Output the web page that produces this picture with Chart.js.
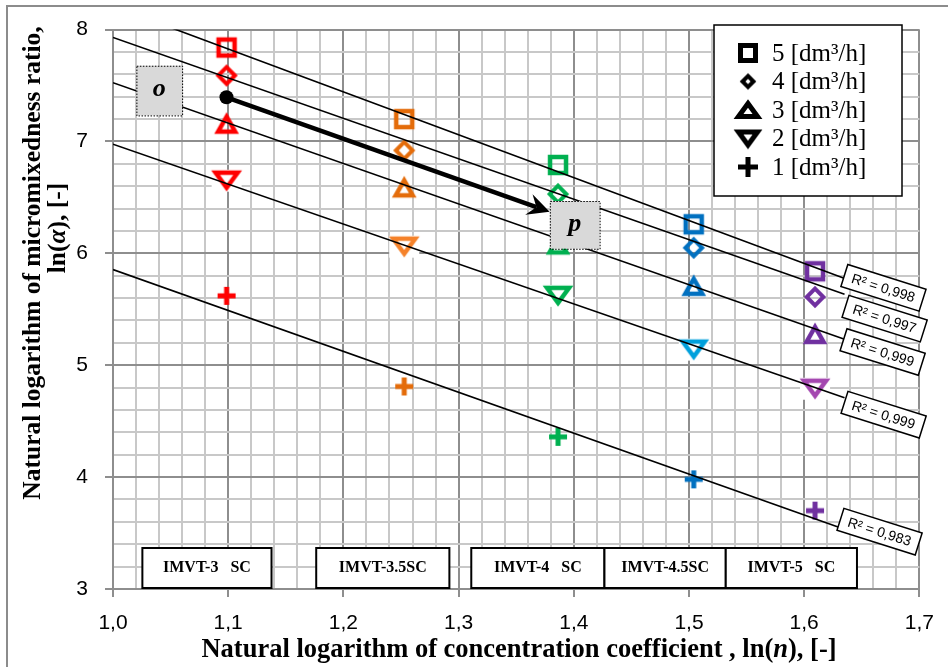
<!DOCTYPE html>
<html><head><meta charset="utf-8">
<script src="https://cdn.jsdelivr.net/npm/chart.js@4.4.1/dist/chart.umd.min.js"></script>
<style>html,body{margin:0;padding:0;background:#fff;}canvas{display:block;}</style>
</head><body>
<canvas id="c" width="948" height="667"></canvas>
<script>
// ---- data ----
const xValues = [1.0986, 1.2528, 1.3863, 1.5041, 1.6094];   // ln(n) for IMVT-3 ... IMVT-5
const flowLabels = ['5 [dm³/h]', '4 [dm³/h]', '3 [dm³/h]', '2 [dm³/h]', '1 [dm³/h]'];
const flow5 = [7.84, 7.20, 6.79, 6.26, 5.84];
const flow4 = [7.59, 6.92, 6.53, 6.05, 5.61];
const flow3 = [7.16, 6.59, 6.08, 5.71, 5.28];
const flow2 = [6.65, 6.06, 5.62, 5.14, 4.79];
const flow1 = [5.62, 4.81, 4.36, 3.98, 3.70];
// trend lines (start at ln(n)=1.0, end where the R² label sits)
const trendStart = [8.21, 7.93, 7.526, 6.976, 5.855];
const trendEndX = [1.634, 1.635, 1.635, 1.635, 1.630];
const trendEnd = [5.78, 5.634, 5.233, 4.71, 3.553];
const r2Labels = ['R² = 0,998', 'R² = 0,997', 'R² = 0,999', 'R² = 0,999', 'R² = 0,983'];
const reactorLabels = ['IMVT-3   SC', 'IMVT-3.5SC', 'IMVT-4   SC', 'IMVT-4.5SC', 'IMVT-5   SC'];
const arrowFrom = [1.0985, 7.395];
const arrowTo = [1.379, 6.371];

// ---- styles ----
const catColors = ['#FF0000', '#E46C0A', '#00B050', '#0070C0', '#7030A0'];
const downColors = ['#FF0000', '#F5822A', '#00B050', '#00A0DC', '#A447B0'];
const shapes = ['square', 'diamond', 'tri', 'down', 'plus'];
const isMajorX = v => Math.abs(v * 10 - Math.round(v * 10)) < 1e-6;
const isMajorY = v => Math.abs(v - Math.round(v)) < 1e-6;

function marker(shape, color, big) {
  const S = 40, c = document.createElement('canvas');
  c.width = S; c.height = S;
  const g = c.getContext('2d');
  g.translate(S / 2, S / 2);
  g.strokeStyle = color; g.fillStyle = color; g.lineJoin = 'miter'; g.lineCap = 'butt';
  g.beginPath();
  if (shape === 'square') {
    const h = big ? 7.5 : 8; g.lineWidth = big ? 5 : 4.5; g.rect(-h, -h, 2 * h, 2 * h);
  } else if (shape === 'diamond') {
    const h = big ? 5.5 : 8.3; g.lineWidth = 4;
    g.moveTo(0, -h); g.lineTo(h, 0); g.lineTo(0, h); g.lineTo(-h, 0); g.closePath();
  } else if (shape === 'tri') {
    g.lineWidth = big ? 5 : 4.5;
    if (big) { g.moveTo(0, -6.5); g.lineTo(9.5, 6.5); g.lineTo(-9.5, 6.5); }
    else { g.moveTo(0, -7); g.lineTo(8.5, 8); g.lineTo(-8.5, 8); }
    g.closePath();
  } else if (shape === 'down') {
    if (!big) { g.fillStyle = '#fff'; g.fillRect(-15, -11, 30, 22); g.fillStyle = color; }
    g.lineWidth = big ? 5 : 4.5;
    if (big) { g.moveTo(-9.5, -6.5); g.lineTo(9.5, -6.5); g.lineTo(0, 6.5); }
    else { g.moveTo(-11, -8); g.lineTo(11, -8); g.lineTo(0, 7); }
    g.closePath();
  } else if (shape === 'plus') {
    const h = big ? 10 : 9; g.lineWidth = 5;
    g.moveTo(-h, 0); g.lineTo(h, 0); g.moveTo(0, -h); g.lineTo(0, h);
  }
  g.stroke();
  return c;
}

const seriesVals = [flow5, flow4, flow3, flow2, flow1];
const datasets = [];
seriesVals.forEach((vals, s) => {
  datasets.push({
    label: flowLabels[s],
    data: xValues.map((x, i) => ({ x: x, y: vals[i] })),
    pointStyle: xValues.map((x, i) => marker(shapes[s], (shapes[s] === 'down' ? downColors : catColors)[i], false)),
    pointRadius: 10, showLine: false, order: 1
  });
});
seriesVals.forEach((vals, s) => {
  datasets.push({
    label: 'trend ' + flowLabels[s],
    data: [{ x: 1.0, y: trendStart[s] }, { x: trendEndX[s], y: trendEnd[s] }],
    showLine: true, borderColor: '#000', borderWidth: 1.6, pointRadius: 0, order: 0, tension: 0
  });
});

const r2Offsets = [[1, -2.5], [1, 12], [-1, 0.5], [0, 4.7], [1.7, -7.8]];
const reactorBounds = [[1.0255, 1.1376], [1.1764, 1.292], [1.311, 1.4266], [1.4266, 1.5319], [1.5319, 1.6458]];

function drawPieces(ctx, pieces, cx, cy, size) {
  const fonts = pieces.map(p => (p[1] ? 'bold italic ' : 'bold ') + size + 'px "Liberation Serif"');
  let total = 0;
  const widths = pieces.map((p, i) => { ctx.font = fonts[i]; const w = ctx.measureText(p[0]).width; total += w; return w; });
  let x = cx - total / 2;
  ctx.textAlign = 'left'; ctx.textBaseline = 'middle'; ctx.fillStyle = '#000';
  pieces.forEach((p, i) => { ctx.font = fonts[i]; ctx.fillText(p[0], x, cy); x += widths[i]; });
}

const deco = {
  id: 'deco',
  beforeDraw(chart) {
    const ctx = chart.ctx;
    ctx.save();
    ctx.fillStyle = '#fff'; ctx.fillRect(0, 0, chart.width, chart.height);
    ctx.strokeStyle = '#8c8c8c'; ctx.lineWidth = 2;
    ctx.beginPath(); ctx.moveTo(7, 667); ctx.lineTo(7, 6); ctx.lineTo(948, 6); ctx.stroke();
    ctx.restore();
  },
  afterDatasetsDraw(chart) {
    const ctx = chart.ctx, xs = chart.scales.x, ys = chart.scales.y;
    ctx.save();
    // arrow o -> p
    const sx = xs.getPixelForValue(arrowFrom[0]), sy = ys.getPixelForValue(arrowFrom[1]);
    const tx = xs.getPixelForValue(arrowTo[0]), ty = ys.getPixelForValue(arrowTo[1]);
    const a = Math.atan2(ty - sy, tx - sx), ux = Math.cos(a), uy = Math.sin(a), vx = -uy, vy = ux;
    ctx.strokeStyle = '#000'; ctx.lineWidth = 4.5;
    ctx.beginPath(); ctx.moveTo(sx, sy); ctx.lineTo(tx - 14 * ux, ty - 14 * uy); ctx.stroke();
    ctx.fillStyle = '#000';
    ctx.beginPath();
    ctx.moveTo(tx, ty);
    ctx.lineTo(tx - 22 * ux + 11 * vx, ty - 22 * uy + 11 * vy);
    ctx.lineTo(tx - 14 * ux, ty - 14 * uy);
    ctx.lineTo(tx - 22 * ux - 11 * vx, ty - 22 * uy - 11 * vy);
    ctx.closePath(); ctx.fill();
    ctx.beginPath(); ctx.arc(sx, sy, 7, 0, Math.PI * 2); ctx.fill();
    // gray boxes o and p
    const grayBox = (x0, x1, y0, y1, t) => {
      const l = xs.getPixelForValue(x0), r = xs.getPixelForValue(x1), tp = ys.getPixelForValue(y0), b = ys.getPixelForValue(y1);
      ctx.fillStyle = '#d9d9d9'; ctx.fillRect(l, tp, r - l, b - tp);
      ctx.setLineDash([1.5, 1.5]); ctx.strokeStyle = '#000'; ctx.lineWidth = 1;
      ctx.strokeRect(l + 0.5, tp + 0.5, r - l, b - tp); ctx.setLineDash([]);
      ctx.fillStyle = '#000'; ctx.font = 'bold italic 26px "Liberation Serif"';
      ctx.textAlign = 'center'; ctx.textBaseline = 'middle';
      ctx.fillText(t, (l + r) / 2, (tp + b) / 2 - 1);
    };
    grayBox(1.0203, 1.0600, 7.677, 7.233, 'o');
    grayBox(1.3792, 1.4224, 6.468, 6.041, 'p');
    // R² labels
    const ang = 17.5 * Math.PI / 180;
    r2Labels.forEach((t, i) => {
      const ex = xs.getPixelForValue(trendEndX[i]) + r2Offsets[i][0];
      const ey = ys.getPixelForValue(trendEnd[i]) + r2Offsets[i][1];
      ctx.save(); ctx.translate(ex, ey); ctx.rotate(ang);
      ctx.fillStyle = '#fff'; ctx.fillRect(0, -11.5, 82, 23);
      ctx.strokeStyle = '#000'; ctx.lineWidth = 1.5; ctx.strokeRect(0, -11.5, 82, 23);
      ctx.fillStyle = '#000'; ctx.font = '14px "Liberation Sans"';
      ctx.textAlign = 'left'; ctx.textBaseline = 'middle'; ctx.fillText(t, 8, 1);
      ctx.restore();
    });
    // reactor boxes
    const bot = chart.chartArea.bottom;
    reactorLabels.forEach((t, i) => {
      const l = xs.getPixelForValue(reactorBounds[i][0]), r = xs.getPixelForValue(reactorBounds[i][1]);
      ctx.fillStyle = '#fff'; ctx.fillRect(l, bot - 41, r - l, 40);
      ctx.strokeStyle = '#000'; ctx.lineWidth = 2; ctx.strokeRect(l, bot - 41, r - l, 40);
      ctx.fillStyle = '#000'; ctx.font = 'bold 16px "Liberation Serif"';
      ctx.textAlign = 'center'; ctx.textBaseline = 'middle';
      ctx.fillText(t, (l + r) / 2, bot - 21);
    });
    ctx.restore();
  },
  afterDraw(chart) {
    const ctx = chart.ctx;
    ctx.save();
    // legend
    ctx.fillStyle = '#fff'; ctx.fillRect(714, 25, 188, 171);
    ctx.strokeStyle = '#000'; ctx.lineWidth = 1.5; ctx.strokeRect(714, 25, 188, 171);
    flowLabels.forEach((t, i) => {
      const y = 53 + 28.5 * i;
      const m = marker(shapes[i], '#000', true);
      ctx.drawImage(m, 748 - m.width / 2, y - m.height / 2);
      ctx.fillStyle = '#000'; ctx.font = '25px "Liberation Serif"';
      ctx.textAlign = 'left'; ctx.textBaseline = 'middle';
      ctx.fillText(t, 772, y + 1);
    });
    // axis titles
    drawPieces(ctx, [['Natural logarithm of concentration coefficient , ln(', false], ['n', true], ['), [-]', false]], 519, 650, 26.5);
    ctx.save(); ctx.translate(33, 263); ctx.rotate(-Math.PI / 2);
    drawPieces(ctx, [['Natural logarithm of micromixedness ratio,', false]], 0, 0, 25.5);
    ctx.restore();
    ctx.save(); ctx.translate(58, 228); ctx.rotate(-Math.PI / 2);
    drawPieces(ctx, [['ln(', false], ['α', true], ['), [-]', false]], 0, 0, 25.5);
    ctx.restore();
    ctx.restore();
  }
};

new Chart(document.getElementById('c'), {
  type: 'scatter',
  data: { datasets: datasets },
  plugins: [deco],
  options: {
    responsive: false, animation: false, devicePixelRatio: 1, events: [],
    layout: { padding: { top: 27, right: 24, left: 0, bottom: 0 } },
    plugins: { legend: { display: false }, tooltip: { enabled: false } },
    scales: {
      x: {
        type: 'linear', min: 1.0, max: 1.7, position: 'bottom',
        ticks: {
          stepSize: 0.02, autoSkip: false, maxRotation: 0, minRotation: 0, padding: 14, color: '#000',
          font: { family: '"Liberation Sans", Arial, sans-serif', size: 21 },
          callback: v => isMajorX(v) ? v.toFixed(1).replace('.', ',') : ''
        },
        grid: {
          color: c => isMajorX(c.tick.value) ? '#8e8e8e' : '#c8c8c8', lineWidth: 2, tickLength: 8,
          tickColor: c => isMajorX(c.tick.value) ? '#8e8e8e' : 'rgba(0,0,0,0)'
        },
        border: { color: '#8e8e8e', width: 2 },
        afterFit: s => { s.height = 78; }
      },
      y: {
        type: 'linear', min: 3, max: 8,
        ticks: {
          stepSize: 0.2, autoSkip: false, padding: 17, color: '#000',
          font: { family: '"Liberation Sans", Arial, sans-serif', size: 21 },
          callback: v => isMajorY(v) ? String(Math.round(v)) : ''
        },
        grid: {
          color: c => isMajorY(c.tick.value) ? '#8e8e8e' : '#c8c8c8', lineWidth: 2, tickLength: 8,
          tickColor: c => isMajorY(c.tick.value) ? '#8e8e8e' : 'rgba(0,0,0,0)'
        },
        border: { color: '#8e8e8e', width: 2 },
        afterFit: s => { s.width = 113; }
      }
    }
  }
});
</script>
</body></html>
